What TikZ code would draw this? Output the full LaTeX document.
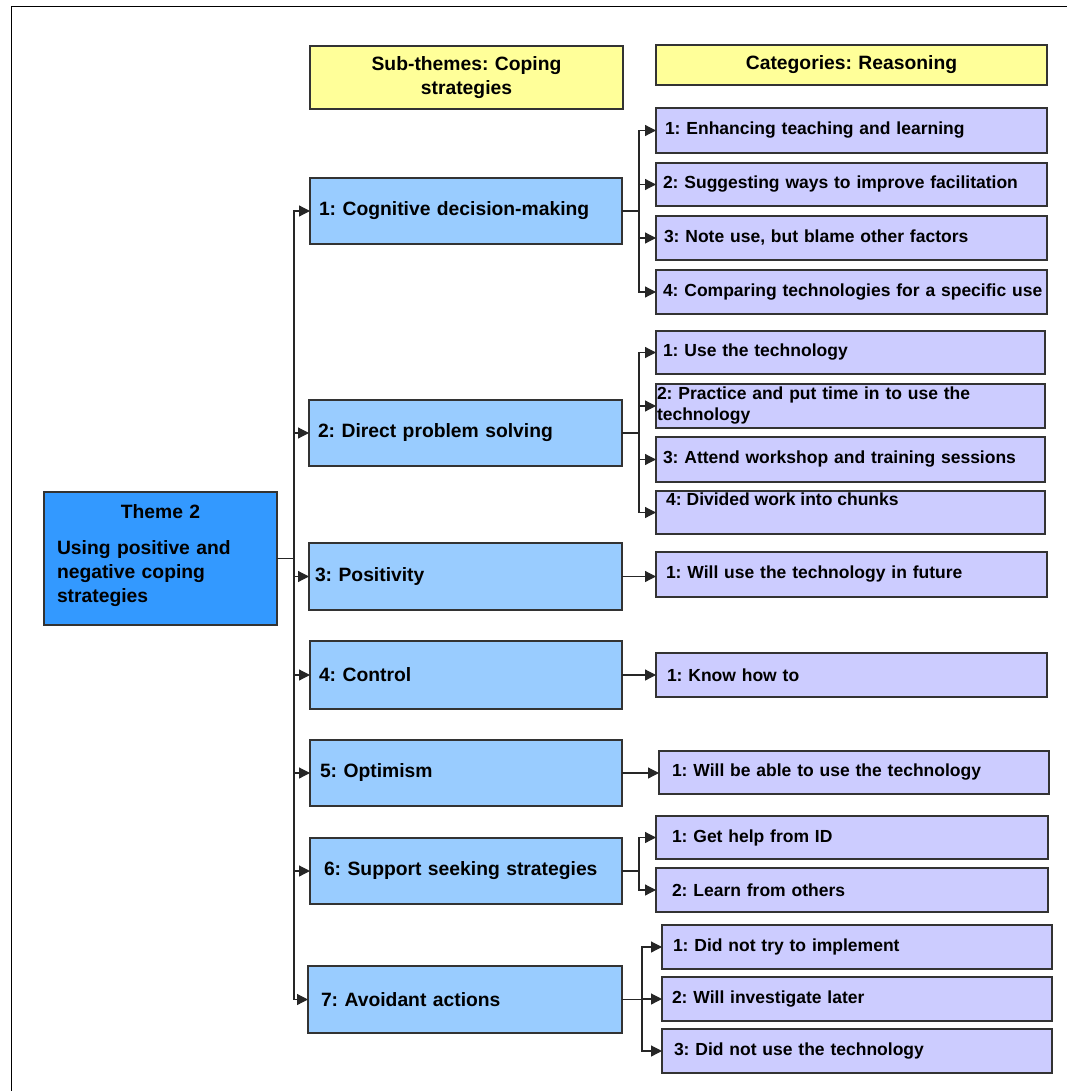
\documentclass[tikz,border=0pt]{standalone}
\usepackage{fontspec}
\setmainfont{Liberation Sans}
\usetikzlibrary{arrows.meta}
\frenchspacing

\definecolor{headc}{HTML}{FFFF99}
\definecolor{themec}{HTML}{3399FF}
\definecolor{subc}{HTML}{99CCFF}
\definecolor{catc}{HTML}{CCCCFF}
\definecolor{edgec}{HTML}{333333}
\definecolor{linec}{HTML}{262626}

\newcommand\bigfont{\fontsize{19.3}{24}\selectfont\bfseries}
\newcommand\smallfont{\fontsize{17.5}{21}\selectfont\bfseries}

\begin{document}
\begin{tikzpicture}[x=1pt,y=-1pt,
  box/.style={draw=edgec, line width=1.2pt, anchor=north west, outer sep=0pt, inner ysep=0pt},
  headbox/.style={box, fill=headc, align=center, font=\bigfont, inner xsep=9pt},
  themebox/.style={box, fill=themec, align=left, font=\bigfont},
  subbox/.style={box, fill=subc, align=left, font=\bigfont, minimum height=66pt},
  catbox/.style={box, fill=catc, align=left, font=\smallfont, minimum height=44pt},
  conn/.style={draw=linec, line width=1.2pt},
  arr/.style={conn, -{Triangle[length=11pt,width=11pt]}}]

\useasboundingbox (0,0) rectangle (1067,1091);

% outer frame (top and left edges)
\draw[line width=1.5pt, black] (11.5,1091) -- (11.5,6.5) -- (1067,6.5);

% column headers
\node[headbox, text width=295pt, minimum height=63pt] (hsub) at (310,46) {Sub-themes: Coping\\strategies};
\node[headbox, text width=373pt, minimum height=40pt] (hcat) at (656,45) {Categories: Reasoning};

% theme
\node[themebox, text width=207pt, inner xsep=13pt, minimum height=133pt] (theme) at (44,492)
  {\makebox[\linewidth][c]{Theme 2}\\[12pt]Using positive and\\negative coping\\strategies\\[-14pt]\mbox{}};

% sub-themes
\node[subbox, text width=294pt, inner xsep=9pt] (s1) at (310,178) {1: Cognitive decision-making};
\node[subbox, text width=295pt, inner xsep=9pt] (s2) at (309,400) {2: Direct problem solving};
\node[subbox, text width=301pt, inner xsep=6pt, minimum height=67pt] (s3) at (309,543) {3: Positivity};
\node[subbox, text width=294pt, inner xsep=9pt, minimum height=68pt] (s4) at (310,641) {4: Control};
\node[subbox, text width=292pt, inner xsep=10pt] (s5) at (310,740) {5: Optimism};
\node[subbox, text width=284pt, inner xsep=14pt] (s6) at (310,838) {6: Support seeking strategies};
\node[subbox, text width=288pt, inner xsep=13pt, minimum height=67pt] (s7) at (308,966) {7: Avoidant actions};

% categories of sub-theme 1
\node[catbox, text width=373pt, inner xsep=9pt, minimum height=45pt] (c11) at (656,108) {1: Enhancing teaching and learning};
\node[catbox, text width=377pt, inner xsep=7pt, minimum height=43pt] (c12) at (656,163) {2: Suggesting ways to improve facilitation};
\node[catbox, text width=375pt, inner xsep=8pt] (c13) at (656,216) {3: Note use, but blame other factors};
\node[catbox, text width=377pt, inner xsep=7pt] (c14) at (656,270) {\mbox{4: Comparing technologies for a specific use}};

% categories of sub-theme 2
\node[catbox, text width=375pt, inner xsep=7pt, minimum height=43pt] (c21) at (656,331) {1: Use the technology};
\node[catbox, text width=387pt, inner xsep=1pt] (c22) at (656,384) {2: Practice and put time in to use the\\technology};
\node[catbox, text width=375pt, inner xsep=7pt, minimum height=45pt] (c23) at (656,437) {3: Attend workshop and training sessions};
\node[catbox, text width=369pt, inner xsep=10pt, minimum height=43pt] (c24) at (656,491) {};
\node[anchor=north west, font=\smallfont, inner sep=0pt] (t24) at (666,493) {4: Divided work into chunks};

% single categories
\node[catbox, text width=371pt, inner xsep=10pt, minimum height=45pt] (c31) at (656,552) {1: Will use the technology in future};
\node[catbox, text width=369pt, inner xsep=11pt] (c41) at (656,653) {1: Know how to};
\node[catbox, text width=364pt, inner xsep=13pt, minimum height=43pt] (c51) at (659,751) {1: Will be able to use the technology};

% categories of sub-theme 6
\node[catbox, text width=360pt, inner xsep=16pt, minimum height=43pt] (c61) at (656,816) {1: Get help from ID};
\node[catbox, text width=360pt, inner xsep=16pt] (c62) at (656,868) {2: Learn from others};

% categories of sub-theme 7
\node[catbox, text width=368pt, inner xsep=11pt] (c71) at (662,925) {1: Did not try to implement};
\node[catbox, text width=370pt, inner xsep=10pt] (c72) at (662,977) {2: Will investigate later};
\node[catbox, text width=366pt, inner xsep=12pt] (c73) at (662,1029) {3: Did not use the technology};

% theme to sub-themes
\coordinate (hub) at (294,558);
\draw[conn] (theme.east) -- (theme.east -| hub);
\foreach \s in {s1,s2,s3,s4,s5,s6,s7}
  \draw[arr] (hub) |- (\s.west);

% sub-themes to categories
\draw[conn] (s1.east) -- ++(17,0) coordinate (j1);
\foreach \c in {c11,c12,c13,c14} \draw[arr] (j1) |- (\c.west);

\draw[conn] (s2.east) -- ++(17,0) coordinate (j2);
\foreach \c in {c21,c22,c23,c24} \draw[arr] (j2) |- (\c.west);

\draw[arr] (s3.east) -- (s3.east -| c31.west);
\draw[arr] (s4.east) -- (s4.east -| c41.west);
\draw[arr] (s5.east) -- (s5.east -| c51.west);

\draw[conn] (s6.east) -- ++(17,0) coordinate (j6);
\foreach \c in {c61,c62} \draw[arr] (j6) |- (\c.west);

\draw[conn] (s7.east) -- ++(20,0) coordinate (j7);
\foreach \c in {c71,c72,c73} \draw[arr] (j7) |- (\c.west);

\end{tikzpicture}
\end{document}
